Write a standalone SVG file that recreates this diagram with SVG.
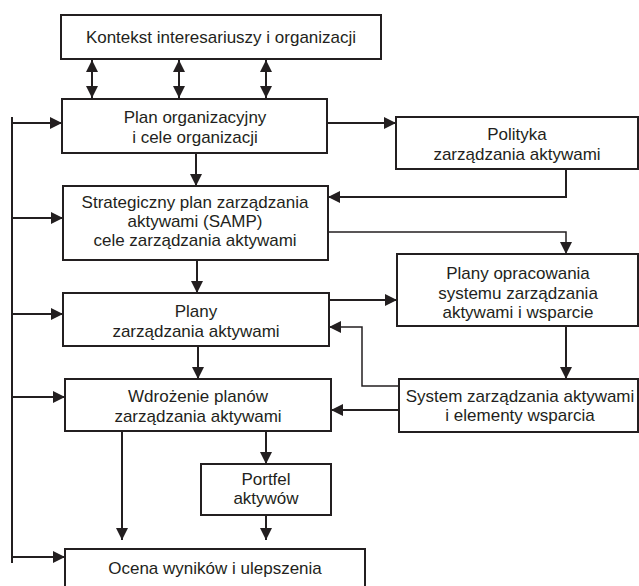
<svg xmlns="http://www.w3.org/2000/svg" width="639" height="586" viewBox="0 0 639 586">
<style>
.box{fill:#fff;stroke:#231f20;stroke-width:2}
.t{font-family:"Liberation Sans",Arial,sans-serif;font-size:17px;fill:#231f20;text-anchor:middle}
.c{fill:none;stroke:#231f20;stroke-width:2}
.thin{fill:none;stroke:#231f20;stroke-width:1.5}
</style>
<defs>
<marker id="ah" markerUnits="userSpaceOnUse" markerWidth="12" markerHeight="12" refX="12" refY="6" orient="auto-start-reverse" viewBox="0 0 12 12">
<path d="M0,0 L12,6 L0,12 z" fill="#231f20"/>
</marker>
</defs>
<rect width="639" height="586" fill="#fff"/>
<g id="connectors">
<path class="c" d="M92,60 V98" marker-start="url(#ah)" marker-end="url(#ah)"/>
<path class="c" d="M179,60 V98" marker-start="url(#ah)" marker-end="url(#ah)"/>
<path class="c" d="M266,60 V98" marker-start="url(#ah)" marker-end="url(#ah)"/>
<path class="c" d="M12,117 V563"/>
<path class="c" d="M12,123 H62" marker-end="url(#ah)"/>
<path class="c" d="M12,218 H63" marker-end="url(#ah)"/>
<path class="c" d="M12,314 H63" marker-end="url(#ah)"/>
<path class="c" d="M12,397 H65" marker-end="url(#ah)"/>
<path class="c" d="M12,557 H65" marker-end="url(#ah)"/>
<path class="c" d="M327,123 H396" marker-end="url(#ah)"/>
<path class="c" d="M196,153 V186" marker-end="url(#ah)"/>
<path class="c" d="M566,169 V197 H328" marker-end="url(#ah)"/>
<path class="thin" d="M328,232 H566 V254" marker-end="url(#ah)"/>
<path class="c" d="M197,260 V293" marker-end="url(#ah)"/>
<path class="c" d="M329,300 H397" marker-end="url(#ah)"/>
<path class="c" d="M566,326 V379" marker-end="url(#ah)"/>
<path class="thin" d="M399,386 H362 V327 H329" marker-end="url(#ah)"/>
<path class="c" d="M399,410 H331" marker-end="url(#ah)"/>
<path class="c" d="M198,346 V379" marker-end="url(#ah)"/>
<path class="c" d="M122,431 V540" marker-end="url(#ah)"/>
<path class="c" d="M266,431 V464" marker-end="url(#ah)"/>
<path class="c" d="M266,515 V540" marker-end="url(#ah)"/>
</g>
<g id="kontekst">
<rect class="box" x="61" y="15" width="320" height="44"/>
<text class="t" x="221" y="43">Kontekst interesariuszy i organizacji</text>
</g>
<g id="plan-org">
<rect class="box" x="62" y="99" width="265" height="54"/>
<text class="t" x="195" y="123">Plan organizacyjny</text>
<text class="t" x="195" y="143">i cele organizacji</text>
</g>
<g id="polityka">
<rect class="box" x="396" y="117" width="242" height="52"/>
<text class="t" x="517" y="140">Polityka</text>
<text class="t" x="517" y="160">zarządzania aktywami</text>
</g>
<g id="samp">
<rect class="box" x="63" y="186" width="265" height="74"/>
<text class="t" x="195" y="208">Strategiczny plan zarządzania</text>
<text class="t" x="195" y="227">aktywami (SAMP)</text>
<text class="t" x="195" y="246">cele zarządzania aktywami</text>
</g>
<g id="plany">
<rect class="box" x="63" y="293" width="266" height="53"/>
<text class="t" x="196" y="317">Plany</text>
<text class="t" x="196" y="337">zarządzania aktywami</text>
</g>
<g id="plany-opracowania">
<rect class="box" x="397" y="254" width="241" height="72"/>
<text class="t" x="518" y="279">Plany opracowania</text>
<text class="t" x="518" y="299">systemu zarządzania</text>
<text class="t" x="518" y="318">aktywami i wsparcie</text>
</g>
<g id="system">
<rect class="box" x="399" y="379" width="239" height="53"/>
<text class="t" x="520" y="402">System zarządzania aktywami</text>
<text class="t" x="520" y="421">i elementy wsparcia</text>
</g>
<g id="wdrozenie">
<rect class="box" x="65" y="379" width="266" height="52"/>
<text class="t" x="198" y="402">Wdrożenie planów</text>
<text class="t" x="198" y="422">zarządzania aktywami</text>
</g>
<g id="portfel">
<rect class="box" x="201" y="464" width="130" height="51"/>
<text class="t" x="266" y="485">Portfel</text>
<text class="t" x="266" y="504">aktywów</text>
</g>
<g id="ocena">
<rect class="box" x="65" y="549" width="300" height="45"/>
<text class="t" x="215" y="574">Ocena wyników i ulepszenia</text>
</g>
</svg>
